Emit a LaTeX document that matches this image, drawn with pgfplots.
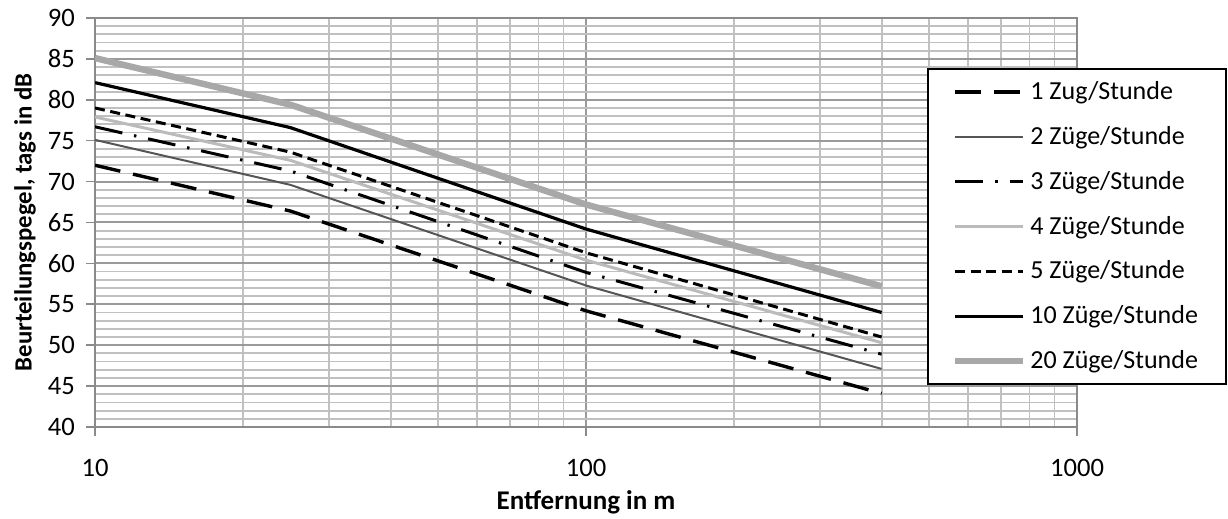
\documentclass[border=0pt]{standalone}
\usepackage{pgfplots}
\pgfplotsset{compat=1.18}
\usepackage{fontspec}
\setmainfont{Carlito}
\definecolor{majgrid}{HTML}{9A9A9A}
\definecolor{mingrid}{HTML}{C0C0C0}
\definecolor{axgray}{HTML}{8A8A8A}
\definecolor{darkline}{HTML}{555555}
\definecolor{lightline}{HTML}{BBBBBB}
\definecolor{thickline}{HTML}{A8A8A8}
\begin{document}
\begin{tikzpicture}
\useasboundingbox (-47.5pt,-46pt) rectangle (566.5pt,213.5pt);
\begin{axis}[
  at={(0pt,0pt)}, anchor=south west,
  scale only axis, width=491pt, height=204.5pt,
  xmode=log, xmin=10, xmax=1000,
  ymin=40, ymax=90,
  xtick={10,100,1000}, xticklabels={10,100,1000},
  ytick={40,45,...,90},
  minor y tick num=4,
  xmajorgrids=true, xminorgrids=true, ymajorgrids=true, yminorgrids=true,
  major grid style={majgrid, line width=1pt},
  minor grid style={mingrid, line width=0.9pt},
  axis line style={axgray, line width=1pt},
  tick align=outside,
  major tick length=4.5pt, minor tick length=0pt,
  tick style={axgray, line width=0.8pt},
  xtick pos=bottom, ytick pos=left,
  /pgf/number format/assume math mode=true,
  tick label style={font=\fontsize{13.3}{15}\selectfont, black},
  xticklabel style={yshift=-8pt},
  yticklabel style={xshift=-2pt},
  xlabel={Entfernung in m},
  ylabel={Beurteilungspegel, tags in dB},
  xlabel style={font=\fontsize{13.5}{15}\selectfont\bfseries, at={(axis description cs:0.5,-0.183)}, anchor=center},
  ylabel style={font=\fontsize{12.4}{14}\selectfont\bfseries, at={(axis description cs:-0.0713,0.5)}, anchor=center},
  legend image code/.code={\draw[#1] (0pt,0pt) -- (34pt,0pt);},
  legend cell align=left,
  legend style={at={(axis description cs:1,0.49)}, anchor=east, xshift=75pt,
    draw=black, line width=1pt, fill=white,
    font=\fontsize{13}{15}\selectfont,
    inner xsep=12pt, inner ysep=4pt, row sep=7.9pt},
]
\addplot[black, line width=1.7pt, dash pattern=on 13pt off 6.5pt] coordinates {(10,72.0) (25,66.4) (100,54.2) (400,44.1)};
\addlegendentry{1 Zug/Stunde}
\addplot[darkline, line width=1pt] coordinates {(10,75.1) (25,69.6) (100,57.3) (400,47.1)};
\addlegendentry{2 Züge/Stunde}
\addplot[black, line width=1.5pt, dash pattern=on 14pt off 6pt on 1.2pt off 6pt] coordinates {(10,76.7) (25,71.3) (100,58.9) (400,48.9)};
\addlegendentry{3 Züge/Stunde}
\addplot[lightline, line width=1.5pt] coordinates {(10,77.9) (25,72.6) (100,60.4) (400,50.3)};
\addlegendentry{4 Züge/Stunde}
\addplot[black, line width=1.5pt, dash pattern=on 5pt off 2.8pt] coordinates {(10,79.0) (25,73.6) (100,61.3) (400,51.0)};
\addlegendentry{5 Züge/Stunde}
\addplot[black, line width=1.6pt] coordinates {(10,82.1) (25,76.6) (100,64.2) (400,54.0)};
\addlegendentry{10 Züge/Stunde}
\addplot[thickline, line width=3.2pt] coordinates {(10,85.1) (25,79.4) (100,67.2) (400,57.2)};
\addlegendentry{20 Züge/Stunde}
\end{axis}
\end{tikzpicture}
\end{document}
